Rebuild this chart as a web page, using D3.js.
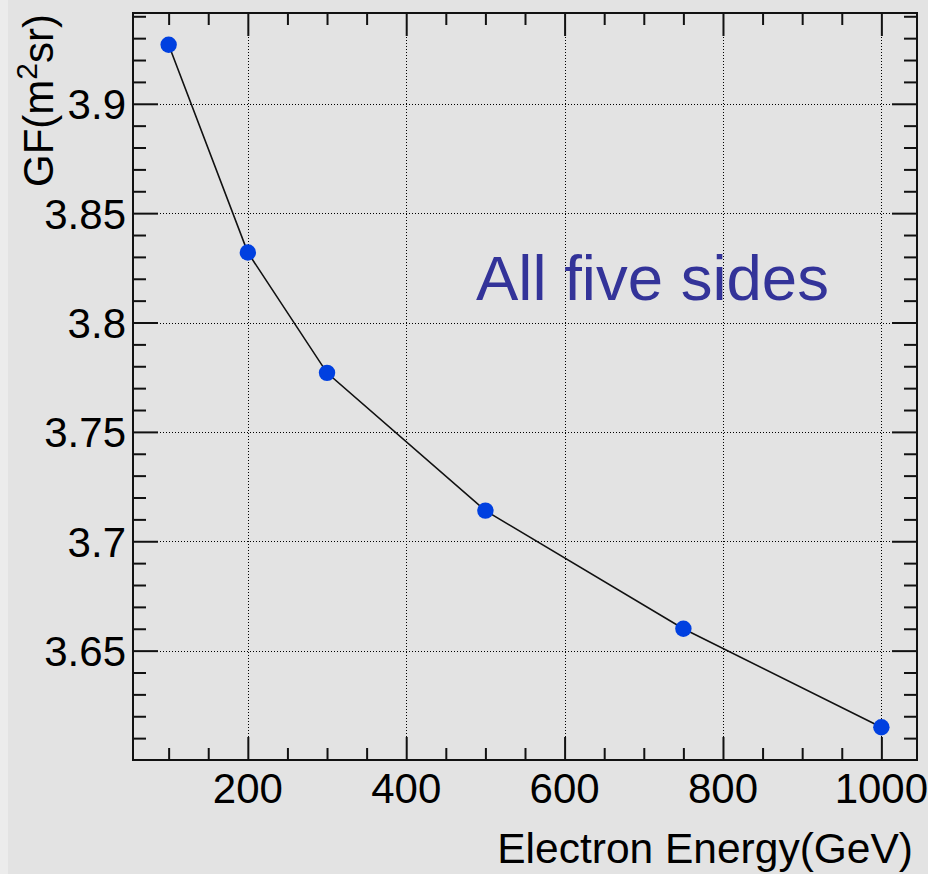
<!DOCTYPE html>
<html>
<head>
<meta charset="utf-8">
<script src="https://cdn.jsdelivr.net/npm/d3@7"></script>
<style>
  html, body { margin: 0; padding: 0; background: #e3e3e3; }
  svg { display: block; }
  text { font-family: "Liberation Sans", Arial, Helvetica, sans-serif; fill: #000; }
</style>
</head>
<body>
<script>
// Geometric factor versus electron energy
const energies = [100, 200, 300, 500, 750, 1000];
const gfValues = [3.927, 3.832, 3.777, 3.714, 3.660, 3.615];
const xMajorTicks = [200, 400, 600, 800, 1000];
const yMajorTicks = [3.65, 3.7, 3.75, 3.8, 3.85, 3.9];
const yTickLabels = ["3.65", "3.7", "3.75", "3.8", "3.85", "3.9"];
const xDomain = [55, 1045];
const yDomain = [3.6, 3.9415];

const W = 928, H = 874;
const frame = { left: 133, top: 13, right: 917, bottom: 760 };

const svg = d3.select("body").append("svg").attr("width", W).attr("height", H);

svg.append("rect").attr("width", W).attr("height", H).attr("fill", "#e3e3e3");
svg.append("rect").attr("width", 8).attr("height", H).attr("fill", "#ececec");

const x = d3.scaleLinear().domain(xDomain).range([frame.left, frame.right]);
const y = d3.scaleLinear().domain(yDomain).range([frame.bottom, frame.top]);

const xMinor = d3.range(100, 1001, 50).filter(v => !xMajorTicks.includes(v));
const yMinor = d3.range(361, 395, 1).map(v => v / 100).filter(v => !yMajorTicks.some(t => Math.abs(t - v) < 1e-9));

// grid
const grid = svg.append("g").attr("stroke", "#000").attr("stroke-width", 1).attr("stroke-dasharray", "1,2");
grid.selectAll(".gx").data(xMajorTicks).join("line")
  .attr("x1", d => Math.round(x(d)) + 0.5).attr("x2", d => Math.round(x(d)) + 0.5)
  .attr("y1", frame.top).attr("y2", frame.bottom);
grid.selectAll(".gy").data(yMajorTicks).join("line")
  .attr("y1", d => Math.round(y(d)) + 0.5).attr("y2", d => Math.round(y(d)) + 0.5)
  .attr("x1", frame.left).attr("x2", frame.right);

// tick marks on all four sides
const majX = 23, minX = 12, majY = 25, minY = 13;
const axStyle = g => {
  g.select(".domain").remove();
  g.selectAll(".tick line").attr("stroke", "#111").attr("stroke-width", 2);
};
// bottom
svg.append("g").attr("transform", `translate(0,${frame.bottom})`)
  .call(d3.axisTop(x).tickValues(xMajorTicks).tickSize(majX).tickFormat("")).call(axStyle);
svg.append("g").attr("transform", `translate(0,${frame.bottom})`)
  .call(d3.axisTop(x).tickValues(xMinor).tickSize(minX).tickFormat("")).call(axStyle);
// top
svg.append("g").attr("transform", `translate(0,${frame.top})`)
  .call(d3.axisBottom(x).tickValues(xMajorTicks).tickSize(majX).tickFormat("")).call(axStyle);
svg.append("g").attr("transform", `translate(0,${frame.top})`)
  .call(d3.axisBottom(x).tickValues(xMinor).tickSize(minX).tickFormat("")).call(axStyle);
// left
svg.append("g").attr("transform", `translate(${frame.left},0)`)
  .call(d3.axisRight(y).tickValues(yMajorTicks).tickSize(majY).tickFormat("")).call(axStyle);
svg.append("g").attr("transform", `translate(${frame.left},0)`)
  .call(d3.axisRight(y).tickValues(yMinor).tickSize(minY).tickFormat("")).call(axStyle);
// right
svg.append("g").attr("transform", `translate(${frame.right},0)`)
  .call(d3.axisLeft(y).tickValues(yMajorTicks).tickSize(majY).tickFormat("")).call(axStyle);
svg.append("g").attr("transform", `translate(${frame.right},0)`)
  .call(d3.axisLeft(y).tickValues(yMinor).tickSize(minY).tickFormat("")).call(axStyle);

// frame
svg.append("rect")
  .attr("x", frame.left).attr("y", frame.top)
  .attr("width", frame.right - frame.left).attr("height", frame.bottom - frame.top)
  .attr("fill", "none").attr("stroke", "#111").attr("stroke-width", 2);

// tick labels
svg.append("g").selectAll("text").data(xMajorTicks).join("text")
  .attr("x", d => x(d)).attr("y", 803)
  .attr("text-anchor", "middle").attr("font-size", 42)
  .text(d => d3.format("d")(d));
svg.append("g").selectAll("text").data(yMajorTicks).join("text")
  .attr("x", 126).attr("y", d => y(d) + 15.5)
  .attr("text-anchor", "end").attr("font-size", 42)
  .text((d, i) => yTickLabels[i]);

// axis titles
svg.append("text").attr("x", 913).attr("y", 863)
  .attr("text-anchor", "end").attr("font-size", 42.5)
  .text("Electron Energy(GeV)");
const yt = svg.append("text")
  .attr("transform", "translate(53,14) rotate(-90)")
  .attr("text-anchor", "end").attr("font-size", 42);
yt.append("tspan").text("GF(m");
yt.append("tspan").attr("font-size", 30).attr("dy", -16).text("2");
yt.append("tspan").attr("dy", 16).text("sr)");

// polyline through the points
const line = d3.line().x(d => x(d[0])).y(d => y(d[1]));
const pts = energies.map((e, i) => [e, gfValues[i]]);
svg.append("path").datum(pts)
  .attr("d", line).attr("fill", "none").attr("stroke", "#111").attr("stroke-width", 1.6);

svg.append("g").selectAll("circle").data(pts).join("circle")
  .attr("cx", d => x(d[0])).attr("cy", d => y(d[1])).attr("r", 8.2)
  .attr("fill", "#0040e0");

// annotation
svg.append("text").attr("x", 476).attr("y", 300)
  .attr("font-size", 63.5).style("fill", "#333399")
  .text("All five sides");
</script>
</body>
</html>
